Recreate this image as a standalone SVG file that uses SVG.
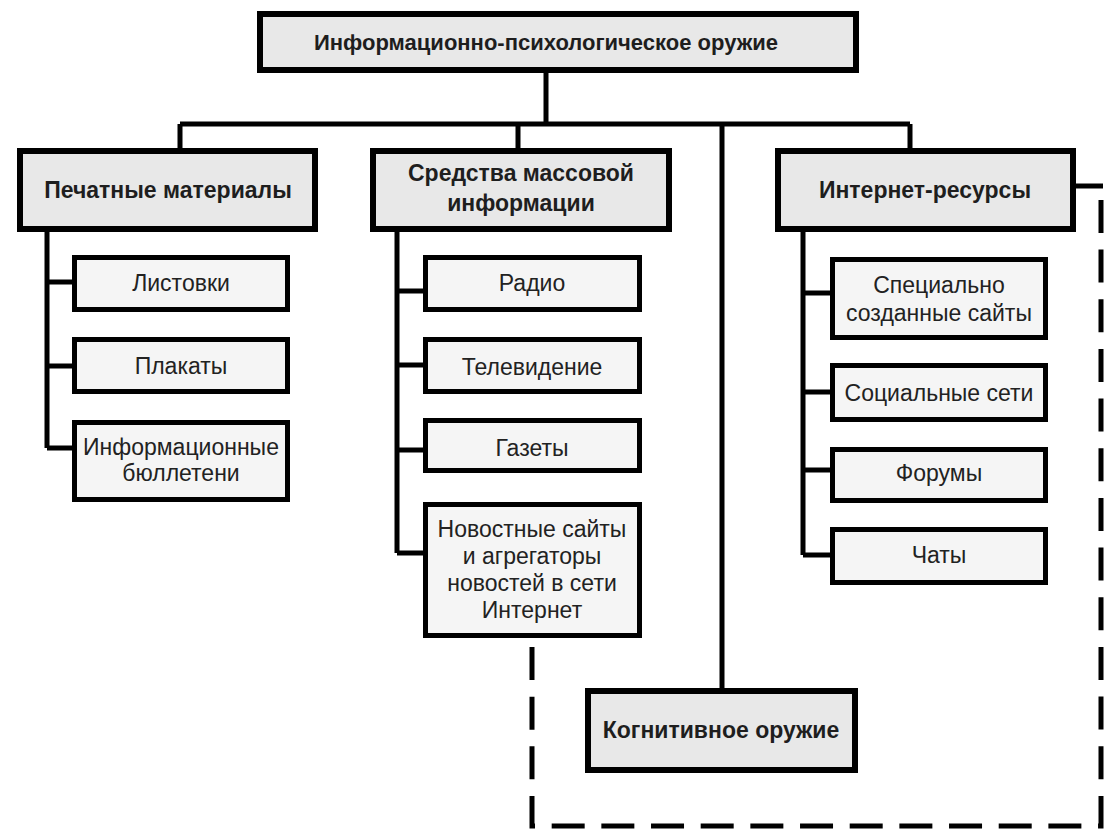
<svg xmlns="http://www.w3.org/2000/svg" width="1111" height="836" viewBox="0 0 1111 836">
<style>
  .main { fill: #e8e8e8; stroke: #000; stroke-width: 6; }
  .sub { fill: #f5f5f5; stroke: #000; stroke-width: 5; }
  .b { font-family: "Liberation Sans", Arial, sans-serif; font-weight: bold; font-size: 23px; fill: #1e1e1e; text-anchor: middle; }
  .t { font-family: "Liberation Sans", Arial, sans-serif; font-size: 23px; fill: #222; text-anchor: middle; }
  .ln { fill: none; stroke: #000; stroke-width: 5; }
  .dash { fill: none; stroke: #000; stroke-width: 5; stroke-dasharray: 33 16.67; }
</style>
<rect width="1111" height="836" fill="#fff"/>
<g id="connectors">
  <path class="ln" d="M546 70 V124 M180 124 H910 M180 124 V150 M518 124 V150 M722 124 V688 M910 124 V150"/>
  <path class="ln" d="M47 230 V448 M47 282 H74 M47 366 H74 M47 448 H74"/>
  <path class="ln" d="M397 230 V553 M397 291 H425 M397 365 H425 M397 450 H425 M397 553 H425"/>
  <path class="ln" d="M803 230 V555 M803 293 H832 M803 392 H832 M803 470 H832 M803 555 H832"/>
  <path class="ln" d="M1073 186 H1103"/>
  <path class="dash" d="M532 647 V826 H1101 V200"/>
</g>
<g id="n-root">
  <rect class="main" x="260" y="14" width="596" height="56"/>
  <text class="b" x="546" y="50" style="font-size:22px">Информационно-психологическое оружие</text>
</g>
<g id="n-print">
  <rect class="main" x="20" y="151" width="295" height="78"/>
  <text class="b" x="168" y="198">Печатные материалы</text>
</g>
<g id="n-media">
  <rect class="main" x="373" y="151" width="296" height="78"/>
  <text class="b" x="521" y="181">Средства массовой</text>
  <text class="b" x="521" y="211">информации</text>
</g>
<g id="n-internet">
  <rect class="main" x="778" y="151" width="295" height="78"/>
  <text class="b" x="925" y="198">Интернет-ресурсы</text>
</g>
<g id="n-leaflets">
  <rect class="sub" x="74.5" y="257.5" width="213" height="52"/>
  <text class="t" x="181" y="291">Листовки</text>
</g>
<g id="n-posters">
  <rect class="sub" x="74.5" y="339.5" width="213" height="52"/>
  <text class="t" x="181" y="374">Плакаты</text>
</g>
<g id="n-bulletins">
  <rect class="sub" x="74.5" y="422.5" width="213" height="77"/>
  <text class="t" x="181" y="455">Информационные</text>
  <text class="t" x="181" y="481">бюллетени</text>
</g>
<g id="n-radio">
  <rect class="sub" x="425.5" y="257.5" width="214" height="52"/>
  <text class="t" x="532" y="291">Радио</text>
</g>
<g id="n-tv">
  <rect class="sub" x="425.5" y="339.5" width="214" height="52"/>
  <text class="t" x="532" y="375">Телевидение</text>
</g>
<g id="n-newspapers">
  <rect class="sub" x="425.5" y="420.5" width="214" height="50"/>
  <text class="t" x="532" y="456">Газеты</text>
</g>
<g id="n-news-sites">
  <rect class="sub" x="425.5" y="504.5" width="214" height="131"/>
  <text class="t" x="532" y="537">Новостные сайты</text>
  <text class="t" x="532" y="564">и агрегаторы</text>
  <text class="t" x="532" y="591">новостей в сети</text>
  <text class="t" x="532" y="618">Интернет</text>
</g>
<g id="n-special-sites">
  <rect class="sub" x="832.5" y="259.5" width="213" height="78"/>
  <text class="t" x="939" y="293">Специально</text>
  <text class="t" x="939" y="321">созданные сайты</text>
</g>
<g id="n-social">
  <rect class="sub" x="832.5" y="365.5" width="213" height="54"/>
  <text class="t" x="939" y="401">Социальные сети</text>
</g>
<g id="n-forums">
  <rect class="sub" x="832.5" y="449.5" width="213" height="51"/>
  <text class="t" x="939" y="481">Форумы</text>
</g>
<g id="n-chats">
  <rect class="sub" x="832.5" y="529.5" width="213" height="53"/>
  <text class="t" x="939" y="563">Чаты</text>
</g>
<g id="n-cognitive">
  <rect class="main" x="588" y="691" width="267" height="79"/>
  <text class="b" x="721" y="738">Когнитивное оружие</text>
</g>
</svg>
